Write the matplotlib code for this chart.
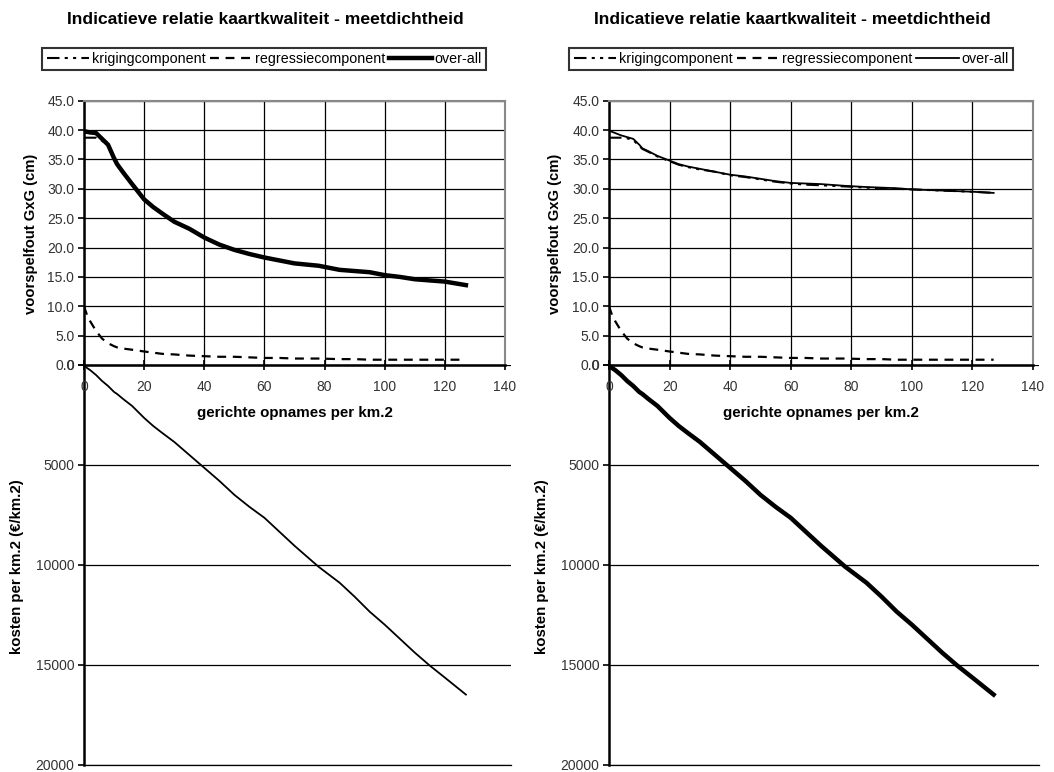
import matplotlib
matplotlib.use("Agg")
import matplotlib.pyplot as plt
from matplotlib.lines import Line2D

plt.rcParams['font.family'] = ['Liberation Sans', 'DejaVu Sans']

# ---- data ----
dichtheid = [0, 1, 2, 4, 6, 8, 10, 11, 13, 16, 20, 23, 26, 30, 35, 40, 45, 50,
             55, 60, 65, 70, 78, 85, 90, 95, 100, 105, 110, 115, 120, 127]

# left panel
kriging_l = [38.7, 38.7, 38.7, 38.7, 38.2, 37.3, 35.0, 34.1, 32.7, 30.7, 28.1, 26.8,
             25.7, 24.3, 23.1, 21.6, 20.5, 19.5, 18.9, 18.3, 17.8, 17.3, 16.9, 16.2,
             16.0, 15.8, 15.3, 15.0, 14.6, 14.4, 14.2, 13.6]
regressie_l = [10.0, 8.5, 7.5, 5.8, 4.5, 3.7, 3.2, 3.0, 2.8, 2.6, 2.3, 2.1, 1.9, 1.8,
               1.6, 1.5, 1.4, 1.4, 1.3, 1.2, 1.2, 1.1, 1.1, 1.0, 1.0, 0.9, 0.9, 0.9,
               0.9, 0.9, 0.9, 0.9]
overall_l = [39.8, 39.7, 39.6, 39.5, 38.5, 37.5, 35.2, 34.2, 32.8, 30.8, 28.2, 26.9,
             25.8, 24.4, 23.2, 21.7, 20.5, 19.6, 18.9, 18.3, 17.8, 17.3, 16.9, 16.2,
             16.0, 15.8, 15.3, 15.0, 14.6, 14.4, 14.2, 13.6]

# right panel
kriging_r = [38.7, 38.7, 38.7, 38.7, 38.6, 38.3, 37.3, 36.8, 36.3, 35.5, 34.7, 34.1,
             33.7, 33.3, 32.9, 32.3, 32.0, 31.6, 31.2, 30.9, 30.7, 30.6, 30.4, 30.2,
             30.1, 30.0, 29.9, 29.8, 29.7, 29.6, 29.5, 29.3]
regressie_r = regressie_l
overall_r = [39.9, 39.7, 39.5, 39.1, 38.8, 38.5, 37.5, 36.9, 36.4, 35.6, 34.8, 34.2,
             33.8, 33.4, 32.9, 32.4, 32.1, 31.7, 31.3, 31.0, 30.9, 30.8, 30.5, 30.3,
             30.2, 30.1, 29.9, 29.8, 29.7, 29.6, 29.5, 29.3]

kosten = [0, 150, 250, 500, 800, 1050, 1350, 1450, 1700, 2050, 2650, 3050, 3400,
          3850, 4500, 5150, 5800, 6500, 7100, 7650, 8350, 9050, 10100, 10900,
          11600, 12350, 13000, 13700, 14400, 15050, 15650, 16500]

titel = "Indicatieve relatie kaartkwaliteit - meetdichtheid"
labels = ["krigingcomponent", "regressiecomponent", "over-all"]
ylab_top = "voorspelfout GxG (cm)"
ylab_bot = "kosten per km.2 (\u20ac/km.2)"
xlab = "gerichte opnames per km.2"
err_ticks = [0, 5, 10, 15, 20, 25, 30, 35, 40, 45]
x_ticks = [0, 20, 40, 60, 80, 100, 120, 140]
cost_ticks = [0, 5000, 10000, 15000, 20000]

W, H = 1054, 772
fig = plt.figure(figsize=(W / 100, H / 100), dpi=100)

KRIG_LS = (0, (6, 2.5, 1.5, 2.5, 1.5, 2.5))
REG_LS = (0, (4, 3))
TICKCOL = '#333333'


def fx(px):
    return px / W


def fy(py):
    return 1 - py / H


def panel(x0, x1, title_cx, krig, reg, ov, ov_lw, cost_lw, ylab_top_x, ylab_bot_x):
    y_top, y_mid, y_bot = 100.7, 365.0, 764.5
    x1b = x1 + 6
    # bottom (cost) axes
    axb = fig.add_axes([fx(x0), fy(y_bot), fx(x1b - x0), fy(y_mid) - fy(y_bot)])
    axb.patch.set_visible(False)
    axb.set_xlim(0, 140 * (x1b - x0) / (x1 - x0))
    axb.set_ylim(20000, 0)
    axb.plot(dichtheid, kosten, color='black', lw=cost_lw, solid_joinstyle='round')
    axb.set_yticks(cost_ticks)
    axb.set_yticklabels([str(t) for t in cost_ticks])
    axb.set_xticks([])
    axb.yaxis.grid(True, color='black', lw=0.9)
    for s in ['top', 'right']:
        axb.spines[s].set_visible(False)
    axb.spines['bottom'].set_linewidth(0.9)
    axb.spines['left'].set_linewidth(1.8)
    axb.tick_params(axis='y', direction='out', length=4, width=1.2, pad=3,
                    labelsize=10, labelcolor=TICKCOL)

    # top (error) axes
    axt = fig.add_axes([fx(x0), fy(y_mid), fx(x1 - x0), fy(y_top) - fy(y_mid)])
    axt.patch.set_visible(False)
    axt.set_xlim(0, 140)
    axt.set_ylim(0, 45)
    axt.set_xticks(x_ticks)
    axt.set_yticks(err_ticks)
    axt.set_yticklabels(['%.1f' % t for t in err_ticks])
    axt.grid(True, color='black', lw=0.9)
    axt.set_axisbelow(True)
    axt.plot(dichtheid, krig, color='black', lw=1.5, ls=KRIG_LS)
    axt.plot(dichtheid, reg, color='black', lw=1.6, ls=REG_LS)
    axt.plot(dichtheid, ov, color='black', lw=ov_lw, solid_joinstyle='round')
    for s in ['top', 'right']:
        axt.spines[s].set_color('#888888')
        axt.spines[s].set_linewidth(1.5)
    for s in ['left', 'bottom']:
        axt.spines[s].set_linewidth(1.8)
    axt.tick_params(axis='x', direction='inout', length=7, width=1.2, pad=7,
                    labelsize=10, labelcolor=TICKCOL)
    axt.tick_params(axis='y', direction='out', length=4, width=1.2, pad=3,
                    labelsize=10, labelcolor=TICKCOL)

    fig.text(fx(title_cx), fy(19), titel, ha='center', va='center',
             fontsize=12.6, fontweight='bold')
    fig.text(fx(ylab_top_x), fy(234), ylab_top, ha='center', va='center',
             rotation=90, fontsize=10.6, fontweight='bold')
    fig.text(fx(ylab_bot_x), fy(567), ylab_bot, ha='center', va='center',
             rotation=90, fontsize=10.8, fontweight='bold')
    fig.text(fx((x0 + x1) / 2), fy(413), xlab, ha='center', va='center',
             fontsize=10.9, fontweight='bold')

    handles = [Line2D([], [], color='black', lw=1.5, ls=KRIG_LS),
               Line2D([], [], color='black', lw=1.6, ls=REG_LS),
               Line2D([], [], color='black', lw=ov_lw)]
    leg = fig.legend(handles, labels, loc='center', ncol=3,
                     bbox_to_anchor=(fx(title_cx - 1), fy(59)),
                     fontsize=10.3, frameon=True, fancybox=False, shadow=False,
                     handlelength=3.0, handletextpad=0.15, columnspacing=0.3,
                     borderpad=0.3, borderaxespad=0)
    leg.get_frame().set_edgecolor('black')
    leg.get_frame().set_linewidth(1.5)


panel(84, 505, 265, kriging_l, regressie_l, overall_l, 3.2, 1.3, 31, 17)
panel(609, 1033, 792, kriging_r, regressie_r, overall_r, 1.3, 3.2, 555, 542)

fig.savefig("out.png", dpi=100)
